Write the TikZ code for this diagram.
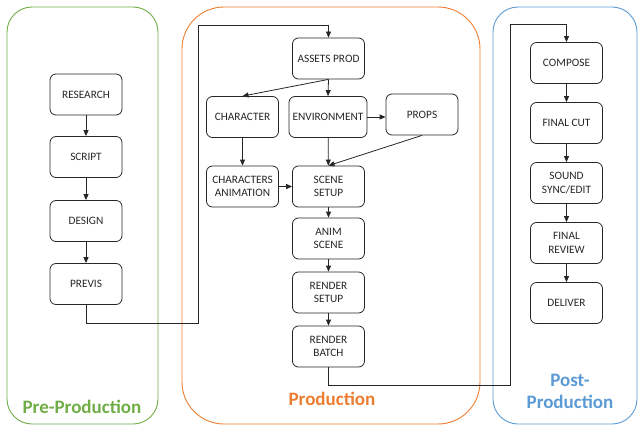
\documentclass[tikz,border=0pt]{standalone}
\usepackage{fontspec}
\setmainfont{Carlito}
\usetikzlibrary{arrows.meta}

\definecolor{pregreen}{HTML}{70AD47}
\definecolor{prodorange}{HTML}{ED7D31}
\definecolor{postblue}{HTML}{5B9BD5}

\tikzset{
  box/.style={draw=black!85, line width=0.8pt, rounded corners=6pt,
    minimum width=72pt, minimum height=41pt, inner sep=2pt, align=center,
    text=black!85, font=\fontsize{11.3}{13.7}\selectfont},
  flow/.style={-{Triangle[length=6pt,width=5pt]}, line width=0.8pt, draw=black!85},
  phase/.style={line width=0.9pt},
  phaselabel/.style={font=\fontsize{19}{22}\selectfont\bfseries, align=center}
}

\begin{document}
\begin{tikzpicture}[x=1pt,y=-1pt]
\useasboundingbox (0,0) rectangle (640,428);

\draw[phase, draw=pregreen, rounded corners=25pt] (7,7) rectangle (158,424);
\draw[phase, draw=prodorange, rounded corners=42pt] (182,7) rectangle (480,424);
\draw[phase, draw=postblue, rounded corners=25pt] (493,7) rectangle (637,424);

\node[phaselabel, text=pregreen] (prelabel) at (82,407) {Pre-Production};
\node[phaselabel, text=prodorange] (prodlabel) at (332,399) {Production};
\node[phaselabel, text=postblue] (postlabel) at (570,391) {Post-\\Production};

% pre-production
\node[box] (research) at (86,94.5) {RESEARCH};
\node[box] (script) at (86,157) {SCRIPT};
\node[box] (design) at (86,221) {DESIGN};
\node[box] (previs) at (86,284) {PREVIS};

% production
\node[box] (assets) at (328.5,58.5) {ASSETS PROD};
\node[box] (character) at (242.5,117) {CHARACTER};
\node[box, minimum width=78pt] (environment) at (328,117) {ENVIRONMENT};
\node[box] (props) at (422,114.5) {PROPS};
\node[box] (charanim) at (242.5,186.5) {CHARACTERS\\ANIMATION};
\node[box] (scenesetup) at (328.5,186.5) {SCENE\\SETUP};
\node[box] (animscene) at (328.5,238.5) {ANIM\\SCENE};
\node[box] (rendersetup) at (328.5,292.5) {RENDER\\SETUP};
\node[box] (renderbatch) at (328.5,346.5) {RENDER\\BATCH};

% post-production
\node[box] (compose) at (566.5,63) {COMPOSE};
\node[box] (finalcut) at (566.5,123) {FINAL CUT};
\node[box] (sound) at (566.5,183) {SOUND\\SYNC/EDIT};
\node[box] (review) at (566.5,243) {FINAL\\REVIEW};
\node[box] (deliver) at (566.5,303) {DELIVER};

\coordinate (jumpa) at (198,323);
\coordinate (jumpb) at (198,25);
\coordinate (jumpc) at (510,385);
\coordinate (jumpd) at (510,24);

\draw[flow] (research) -- (script);
\draw[flow] (script) -- (design);
\draw[flow] (design) -- (previs);
\draw[flow] (previs.south) |- (jumpa) -- (jumpb) -| (assets.north);

\draw[flow] (assets.south) -- (character.north);
\draw[flow] (assets.south) -- (environment.north);
\draw[flow] (environment.east) -- (props.west |- environment.east);
\draw[flow] (character) -- (charanim);
\draw[flow] (environment) -- (scenesetup);
\draw[flow] (props.south) -- (scenesetup.north);
\draw[flow] (charanim) -- (scenesetup);
\draw[flow] (scenesetup) -- (animscene);
\draw[flow] (animscene) -- (rendersetup);
\draw[flow] (rendersetup) -- (renderbatch);
\draw[flow] (renderbatch.south) |- (jumpc) -- (jumpd) -| (compose.north);

\draw[flow] (compose) -- (finalcut);
\draw[flow] (finalcut) -- (sound);
\draw[flow] (sound) -- (review);
\draw[flow] (review) -- (deliver);
\end{tikzpicture}
\end{document}
